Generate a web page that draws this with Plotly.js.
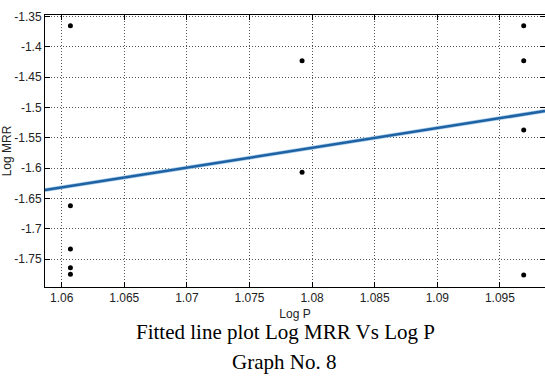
<!DOCTYPE html>
<html>
<head>
<meta charset="utf-8">
<script src="https://cdn.plot.ly/plotly-3.0.1.min.js"></script>
<style>html,body{margin:0;padding:0;background:#fff;}#chart{width:545px;height:382px;}</style>
</head>
<body>
<div id="chart"></div>
<script>
// Observed data (Log P vs Log MRR)
var logP = [1.0607, 1.0607, 1.0607, 1.0607, 1.0607, 1.0792, 1.0792, 1.0969, 1.0969, 1.0969, 1.0969];
var logMRR = [-1.3654, -1.6621, -1.7336, -1.7643, -1.7752, -1.4231, -1.6071, -1.3654, -1.4231, -1.5373, -1.7764];
// Fitted line endpoints
var fitP = [1.05867, 1.09860];
var fitMRR = [-1.6362, -1.5060];
var xTicks = [1.06, 1.065, 1.07, 1.075, 1.08, 1.085, 1.09, 1.095];
var xTickText = ['1.06', '1.065', '1.07', '1.075', '1.08', '1.085', '1.09', '1.095'];
var yTicks = [-1.35, -1.4, -1.45, -1.5, -1.55, -1.6, -1.65, -1.7, -1.75];
var yTickText = ['-1.35', '-1.4', '-1.45', '-1.5', '-1.55', '-1.6', '-1.65', '-1.7', '-1.75'];
var caption1 = 'Fitted line plot Log MRR Vs Log P';
var caption2 = 'Graph No. 8';

var tickFont = {family: 'Liberation Sans, Arial, sans-serif', size: 12, color: '#222'};
var capFont = {family: 'Liberation Serif, Times New Roman, serif', size: 21, color: '#000'};

var traces = [
  {x: fitP, y: fitMRR, mode: 'lines', line: {color: '#a8cdea', width: 4}, hoverinfo: 'skip', showlegend: false},
  {x: fitP, y: fitMRR, mode: 'lines', line: {color: '#1f62a3', width: 2.5}, showlegend: false},
  {x: logP, y: logMRR, mode: 'markers', marker: {color: '#000', size: 5}, showlegend: false}
];

var axisCommon = {
  showline: true, linecolor: '#000', linewidth: 1, mirror: 'ticks',
  ticks: 'inside', ticklen: 5, tickcolor: '#000',
  showgrid: true, gridcolor: '#555', griddash: '1px,2px', gridwidth: 1,
  zeroline: false, tickfont: tickFont
};

var layout = {
  width: 545, height: 382,
  margin: {l: 45, r: 0, t: 15, b: 95},
  paper_bgcolor: '#fff', plot_bgcolor: '#fff',
  xaxis: Object.assign({}, axisCommon, {
    range: [1.05867, 1.09860], tickvals: xTicks, ticktext: xTickText,
    title: {text: 'Log P', font: tickFont, standoff: 5}
  }),
  yaxis: Object.assign({}, axisCommon, {
    range: [-1.7961, -1.3477], tickvals: yTicks, ticktext: yTickText,
    title: {text: 'Log MRR', font: tickFont, standoff: 6}
  }),
  annotations: [
    {text: caption1, xref: 'paper', yref: 'paper', x: 0.48, y: -0.167, xanchor: 'center', yanchor: 'middle', showarrow: false, font: capFont},
    {text: caption2, xref: 'paper', yref: 'paper', x: 0.478, y: -0.276, xanchor: 'center', yanchor: 'middle', showarrow: false, font: capFont}
  ]
};

Plotly.newPlot('chart', traces, layout, {displayModeBar: false, staticPlot: true});
</script>
</body>
</html>
